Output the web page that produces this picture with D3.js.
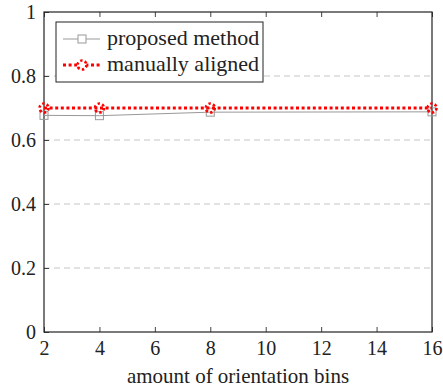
<!DOCTYPE html>
<html>
<head>
<meta charset="utf-8">
<script src="https://cdn.jsdelivr.net/npm/d3@7"></script>
<style>
  html, body { margin: 0; padding: 0; background: #fff; }
  svg { display: block; }
</style>
</head>
<body>
<svg id="chart" width="443" height="389"></svg>
<script>
// Orientation bins and accuracy of both approaches
const bins = [2, 4, 8, 16];
const proposed = [0.677, 0.676, 0.687, 0.688];
const manual = [0.70, 0.70, 0.70, 0.70];
const xTicks = [2, 4, 6, 8, 10, 12, 14, 16];
const yTicks = [0, 0.2, 0.4, 0.6, 0.8, 1];
const yTickLabels = ["0", "0.2", "0.4", "0.6", "0.8", "1"];
const seriesNames = ["proposed method", "manually aligned"];

const serifFace = '"Liberation Serif"';
const svg = d3.select("#chart");
const plotL = 44, plotR = 432, plotT = 12, plotB = 332;

const x = d3.scaleLinear().domain([2, 16]).range([plotL, plotR]);
const y = d3.scaleLinear().domain([0, 1]).range([plotB, plotT]);

// dashed horizontal grid
svg.append("g").selectAll("line")
  .data(yTicks.filter(v => v > 0 && v < 1))
  .join("line")
  .attr("x1", plotL).attr("x2", plotR)
  .attr("y1", d => y(d)).attr("y2", d => y(d))
  .attr("stroke", "#c4c4c4").attr("stroke-width", 1)
  .attr("stroke-dasharray", "6,4");

// bottom axis (ticks pointing inward)
const xAxis = svg.append("g")
  .attr("transform", `translate(0,${plotB})`)
  .call(d3.axisBottom(x).tickValues(xTicks).tickSize(-5).tickPadding(9).tickFormat(d3.format("d")));
xAxis.attr("font-family", null).attr("font-size", null);
xAxis.select(".domain").remove();
xAxis.selectAll(".tick line").attr("stroke", "#444");
xAxis.selectAll("text").style("font-family", serifFace).attr("font-size", 20).attr("fill", "#222");

// top ticks
const xTop = svg.append("g")
  .attr("transform", `translate(0,${plotT})`)
  .call(d3.axisTop(x).tickValues(xTicks).tickSize(-5).tickFormat(""));
xTop.select(".domain").remove();
xTop.selectAll(".tick line").attr("stroke", "#444");

// left axis
const yAxis = svg.append("g")
  .attr("transform", `translate(${plotL},0)`)
  .call(d3.axisLeft(y).tickValues(yTicks).tickSize(-5).tickPadding(8)
    .tickFormat((d, i) => yTickLabels[i]));
yAxis.attr("font-family", null).attr("font-size", null);
yAxis.select(".domain").remove();
yAxis.selectAll(".tick line").attr("stroke", "#444");
yAxis.selectAll("text").style("font-family", serifFace).attr("font-size", 20).attr("fill", "#222");

// frame
svg.append("rect")
  .attr("x", plotL).attr("y", plotT)
  .attr("width", plotR - plotL).attr("height", plotB - plotT)
  .attr("fill", "none").attr("stroke", "#222").attr("stroke-width", 1.2);

// x-axis title
svg.append("text")
  .attr("x", 238).attr("y", 383)
  .attr("text-anchor", "middle").style("font-family", serifFace).attr("font-size", 21).attr("fill", "#222")
  .text("amount of orientation bins");

const line = d3.line().x(d => x(d[0])).y(d => y(d[1]));

// proposed method: thin gray line with square marks
const propPts = bins.map((b, i) => [b, proposed[i]]);
svg.append("path").datum(propPts)
  .attr("d", line).attr("fill", "none")
  .attr("stroke", "#999").attr("stroke-width", 1);
svg.append("g").selectAll("rect").data(propPts).join("rect")
  .attr("x", d => x(d[0]) - 4).attr("y", d => y(d[1]) - 4)
  .attr("width", 8).attr("height", 8)
  .attr("fill", "none").attr("stroke", "#999").attr("stroke-width", 1);

// manually aligned: thick dotted red line with dotted circle marks
const manPts = bins.map((b, i) => [b, manual[i]]);
svg.append("path").datum(manPts)
  .attr("d", line).attr("fill", "none")
  .attr("stroke", "#ff0000").attr("stroke-width", 3)
  .attr("stroke-dasharray", "3,2.6");
svg.append("g").selectAll("circle").data(manPts).join("circle")
  .attr("cx", d => x(d[0])).attr("cy", d => y(d[1]))
  .attr("r", 4.5)
  .attr("fill", "none").attr("stroke", "#ff0000").attr("stroke-width", 2.6)
  .attr("stroke-dasharray", "2.4,2.3");

// legend
const lg = svg.append("g");
lg.append("rect")
  .attr("x", 56).attr("y", 22).attr("width", 207).attr("height", 60)
  .attr("fill", "#fff").attr("stroke", "#222").attr("stroke-width", 1);
const rows = [39, 65];
// row 1
lg.append("line").attr("x1", 63).attr("x2", 100).attr("y1", rows[0]).attr("y2", rows[0])
  .attr("stroke", "#999").attr("stroke-width", 1);
lg.append("rect").attr("x", 78).attr("y", rows[0] - 4).attr("width", 8).attr("height", 8)
  .attr("fill", "#fff").attr("stroke", "#999").attr("stroke-width", 1);
// row 2
lg.append("line").attr("x1", 63).attr("x2", 100).attr("y1", rows[1]).attr("y2", rows[1])
  .attr("stroke", "#ff0000").attr("stroke-width", 3).attr("stroke-dasharray", "3,2.6");
lg.append("circle").attr("cx", 82).attr("cy", rows[1]).attr("r", 4.5)
  .attr("fill", "#fff").attr("stroke", "#ff0000").attr("stroke-width", 2.6)
  .attr("stroke-dasharray", "2.4,2.3");
lg.selectAll("text.lab").data(seriesNames).join("text")
  .attr("class", "lab")
  .attr("x", 107).attr("y", (d, i) => rows[i] + 6)
  .style("font-family", serifFace).attr("font-size", 22).attr("fill", "#222")
  .text(d => d);
</script>
</body>
</html>
